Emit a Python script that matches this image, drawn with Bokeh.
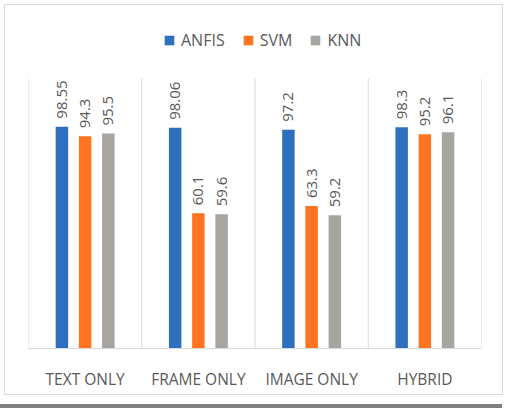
from bokeh.plotting import figure
from bokeh.models import ColumnDataSource, Legend, LegendItem, Div, FactorRange
from bokeh.transform import dodge
from bokeh.layouts import column
from bokeh.embed import file_html
from bokeh.resources import INLINE
from bokeh.core.properties import value

categories = ["TEXT ONLY", "FRAME ONLY", "IMAGE ONLY", "HYBRID"]
series = ["ANFIS", "SVM", "KNN"]
anfis = [98.55, 98.06, 97.2, 98.3]
svm = [94.3, 60.1, 63.3, 95.2]
knn = [95.5, 59.6, 59.2, 96.1]
labels_anfis = ["98.55", "98.06", "97.2", "98.3"]
labels_svm = ["94.3", "60.1", "63.3", "95.2"]
labels_knn = ["95.5", "59.6", "59.2", "96.1"]
axis_max = 120

colors = ["#2E70BE", "#FF7420", "#A8A5A0"]
TXT = "#595959"
FONT = "Open Sans"

src = ColumnDataSource(dict(cat=categories, ANFIS=anfis, SVM=svm, KNN=knn,
                            lA=labels_anfis, lS=labels_svm, lK=labels_knn))

# frame spans fig y 0..343; 2.25 px per unit -> top of range ~152.4
p = figure(x_range=FactorRange(*categories), y_range=(0, 152.4),
           width=499, height=391, output_backend="svg", toolbar_location=None,
           min_border_left=23, min_border_right=23, min_border_top=0, min_border_bottom=48)
p.margin = (4, 0, 0, 4)
p.styles = {"border": "1px solid #d9d9d9", "box-sizing": "border-box"}
p.outline_line_color = None
p.background_fill_color = "white"
p.border_fill_color = "white"
p.yaxis.visible = False
p.ygrid.grid_line_color = None
p.xgrid.grid_line_color = None

# category separators (synthetic categorical coordinates 0..N)
n = len(categories)
p.segment(x0=list(range(n + 1)), y0=[0] * (n + 1), x1=list(range(n + 1)),
          y1=[axis_max] * (n + 1), line_color="#d9d9d9", line_width=1)

offsets = [-0.205, 0.0, 0.205]
bar_w = 0.11
for s, c, off, lab in zip(series, colors, offsets, ["lA", "lS", "lK"]):
    p.vbar(x=dodge("cat", off, range=p.x_range), top=s, width=bar_w, source=src,
           fill_color=c, line_color=None)
    p.text(x=dodge("cat", off, range=p.x_range), y=s, text=lab, source=src,
           angle=1.5708, text_align="left", text_baseline="middle",
           x_offset=0, y_offset=-8, text_font=value(FONT), text_font_size="15px",
           text_color=TXT)

# legend swatches: square markers with a non-drawable (NaN) point
legend_renderers = []
for c in colors:
    r = p.scatter(x=[categories[0]], y=[float("nan")], marker="square", size=9,
                  fill_color=c, line_color=None)
    legend_renderers.append(r)

p.xaxis.axis_line_color = "#d9d9d9"
p.xaxis.major_tick_line_color = None
p.xaxis.minor_tick_line_color = None
p.xaxis.major_label_standoff = 13
p.xaxis.major_label_text_font = FONT
p.xaxis.major_label_text_font_size = "15.5px"
p.xaxis.major_label_text_color = TXT

legend = Legend(items=[LegendItem(label=s, renderers=[r]) for s, r in zip(series, legend_renderers)],
                orientation="horizontal", location=(129, 296),
                glyph_width=24, glyph_height=24, label_standoff=0, spacing=11,
                padding=0, margin=0, border_line_color=None, background_fill_alpha=0,
                label_text_font=FONT, label_text_font_size="16px", label_text_color=TXT)
p.add_layout(legend, "center")

bar = Div(width=514, height=4, styles={"background-color": "#7f7f7f"}, margin=(9, 0, 0, -6))

layout = column(p, bar, spacing=0)
open("out.html", "w").write(file_html(layout, INLINE))
